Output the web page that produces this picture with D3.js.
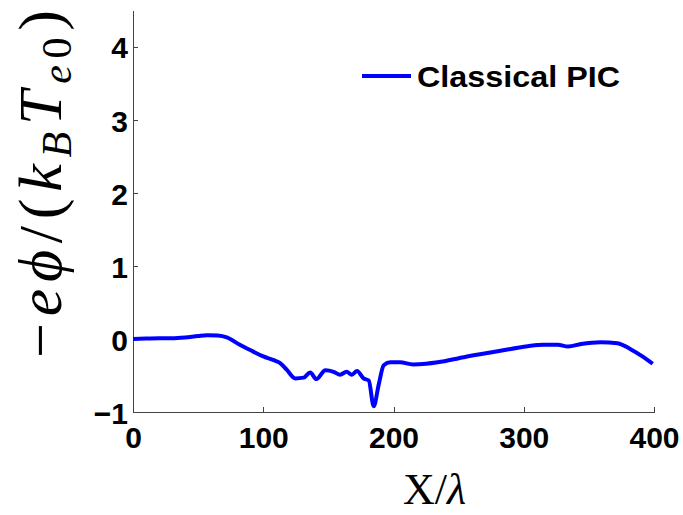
<!DOCTYPE html>
<head>
<style>
  body { margin: 0; background: #fff; }
  svg { display: block; }
  .axis path, .axis line { fill: none; stroke: #444; shape-rendering: crispEdges; }
  .axis text { font: bold 30px "Liberation Sans", Arial, sans-serif; fill: #000; }
  .math { font-family: "Liberation Serif", "Times New Roman", serif; fill: #000; }
</style>
</head>
<body>
<script src="https://d3js.org/d3.v7.min.js"></script>
<script>

// values
var xVals = [0, 10, 20, 30, 40, 50, 57, 65, 72, 82, 92, 100, 108, 113, 118, 124.6, 131, 136, 140.8, 147.7,
             154, 159, 164, 168, 172, 177, 181, 184.8, 188.7, 192.5, 197.7, 205, 215, 225, 234, 254, 280,
             303, 315, 326, 334, 344, 359, 372, 382, 392, 399];
var yVals = [0, 0.005, 0.01, 0.01, 0.02, 0.04, 0.05, 0.045, 0.02, -0.08, -0.17, -0.24, -0.29, -0.33, -0.42, -0.54, -0.53, -0.46, -0.55, -0.43,
             -0.45, -0.49, -0.45, -0.49, -0.44, -0.54, -0.57, -0.92, -0.62, -0.36, -0.32, -0.32, -0.35, -0.34, -0.32, -0.25, -0.17,
             -0.10, -0.08, -0.08, -0.105, -0.07, -0.045, -0.06, -0.14, -0.25, -0.34];
var xTicks = [0, 100, 200, 300, 400];
var yTicks = [-1, 0, 1, 2, 3, 4];
var seriesName = "Classical PIC";

var margin = {top: 10, right: 29, bottom: 103, left: 133},
    width = 683 - margin.left - margin.right,
    height = 515 - margin.top - margin.bottom;

var x = d3.scaleLinear().domain([0, 400]).range([0, width]);
var y = d3.scaleLinear().domain([-1, 4.5]).range([height, 0]);

var svg = d3.select("body").append("svg")
    .attr("width", 683)
    .attr("height", 515);

var g = svg.append("g")
    .attr("transform", "translate(" + margin.left + "," + margin.top + ")");

var xAxis = g.append("g")
    .attr("class", "axis")
    .attr("transform", "translate(0," + height + ")")
    .call(d3.axisBottom(x).tickValues(xTicks).tickSizeInner(-5).tickSizeOuter(0));
xAxis.selectAll("text").attr("y", 15).attr("dy", "0.71em");

var yAxis = g.append("g")
    .attr("class", "axis")
    .call(d3.axisLeft(y).tickValues(yTicks).tickSizeInner(-5).tickSizeOuter(0)
      .tickFormat(function(d) { return d < 0 ? "\u2212" + (-d) : d; }));
yAxis.selectAll("text").attr("x", -5).attr("dy", "0.38em");

var data = xVals.map(function(d, i) { return [d, yVals[i]]; });

g.append("path")
    .datum(data)
    .attr("fill", "none")
    .attr("stroke", "#0000ff")
    .attr("stroke-width", 4)
    .attr("stroke-linejoin", "round")
    .attr("d", d3.line().curve(d3.curveMonotoneX)
      .x(function(d) { return x(d[0]); }).y(function(d) { return y(d[1]); }));

// legend
var leg = svg.append("g").attr("transform", "translate(362,76)");
leg.append("line")
    .attr("x1", 0).attr("x2", 49)
    .attr("stroke", "#0000ff").attr("stroke-width", 4);
leg.append("text")
    .attr("x", 55).attr("y", 11)
    .attr("textLength", 203)
    .attr("lengthAdjust", "spacingAndGlyphs")
    .style("font", "bold 30px 'Liberation Sans', Arial, sans-serif")
    .text(seriesName);

// x label
var xl = svg.append("text")
    .attr("class", "math")
    .attr("x", 403).attr("y", 504)
    .style("font-size", "44px");
xl.append("tspan").text("X/");
xl.append("tspan").style("font-style", "italic").text("\u03bb");

// y label
var yl = svg.append("text")
    .attr("class", "math")
    .attr("transform", "translate(61,184) rotate(-90)")
    .attr("text-anchor", "middle")
    .attr("textLength", 348)
    .attr("lengthAdjust", "spacing")
    .style("font-size", "62px");
yl.append("tspan").text("\u2212");
yl.append("tspan").style("font-style", "italic").text("e\u03d5");
yl.append("tspan").text("/(");
yl.append("tspan").style("font-style", "italic").text("k");
yl.append("tspan").style("font-style", "italic").style("font-size", "42px").attr("dy", 10).text("B");
yl.append("tspan").style("font-style", "italic").attr("dy", -10).text("T");
yl.append("tspan").style("font-style", "italic").style("font-size", "42px").attr("dy", 10).text("e");
yl.append("tspan").style("font-size", "42px").text("0");
yl.append("tspan").attr("dy", -10).text(")");

</script>
</body>
